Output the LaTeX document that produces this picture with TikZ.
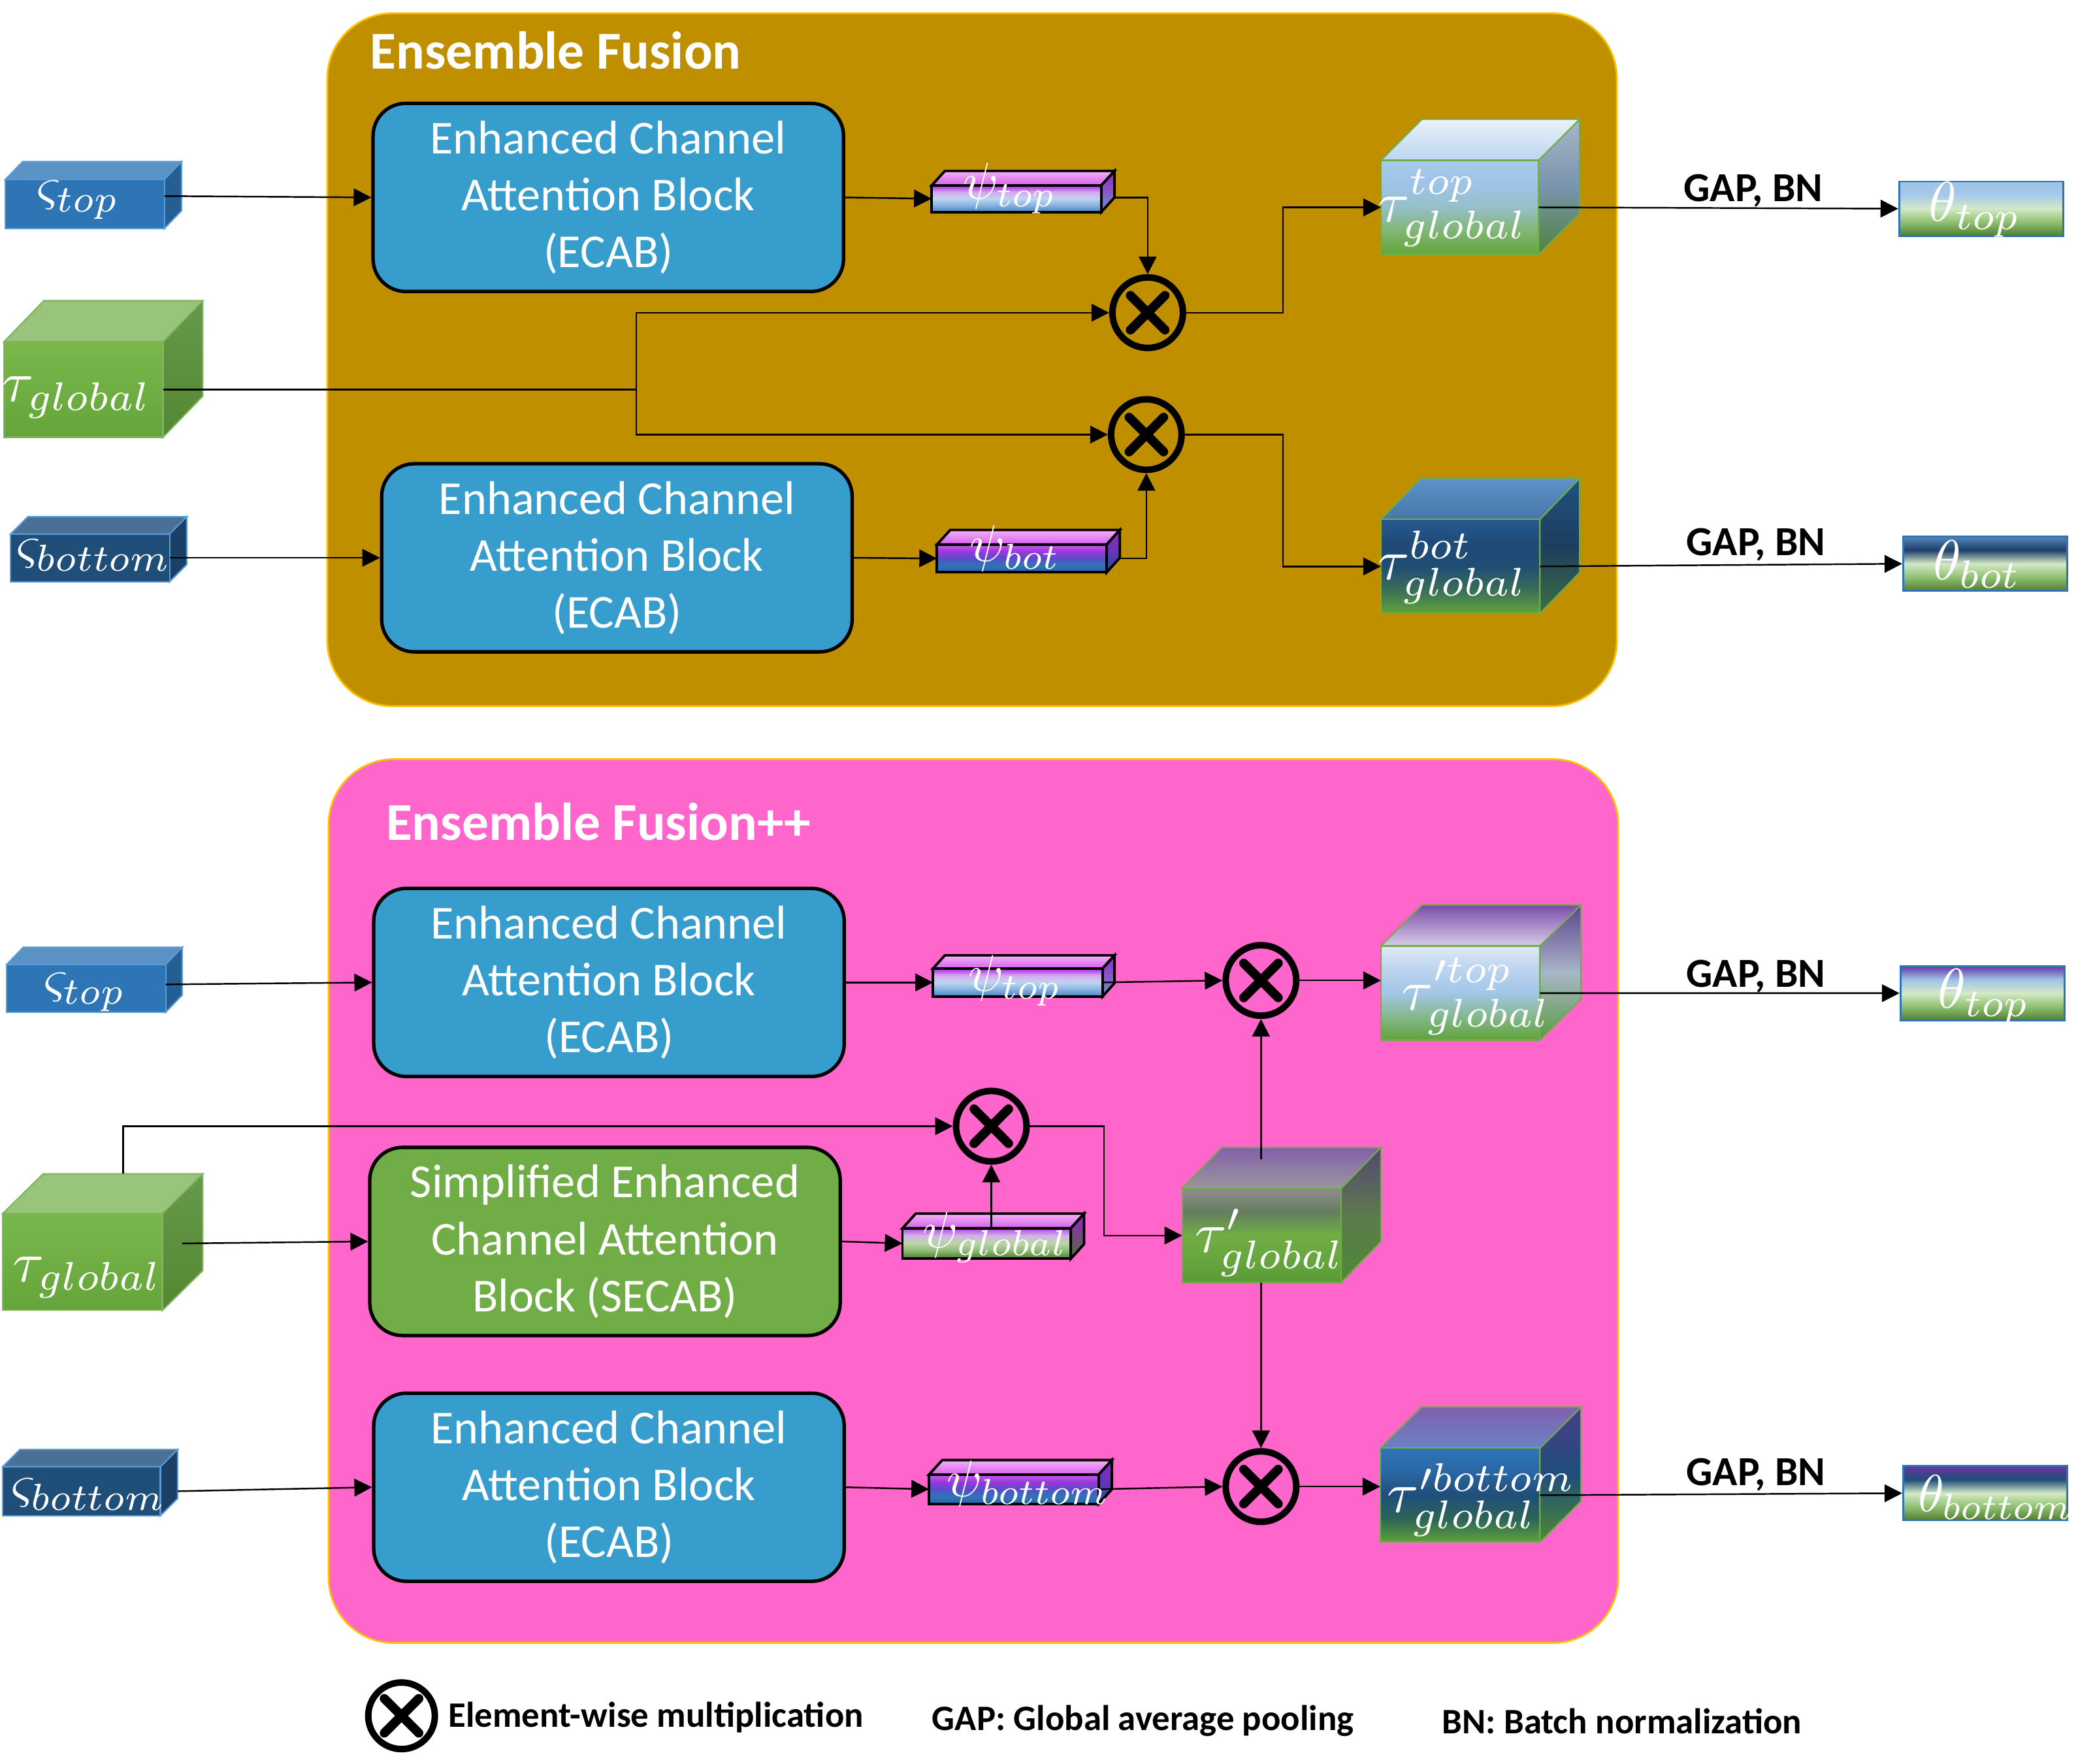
\documentclass[tikz,border=0pt]{standalone}
\usepackage{fontspec}
\setmainfont{Carlito}
\usetikzlibrary{arrows.meta,calc}
\newlength\pxl
\setlength\pxl{0.020287cm}

\definecolor{panelA}{HTML}{BF8F00}
\definecolor{panelB}{HTML}{FF66CC}
\definecolor{panelLine}{HTML}{FFC000}
\definecolor{ecabC}{HTML}{369DCD}
\definecolor{secabC}{HTML}{70AD47}
\definecolor{sLine}{HTML}{5B9BD5}
\definecolor{sTfront}{HTML}{2E75B6}
\definecolor{sTtop}{HTML}{5A92C6}
\definecolor{sTside}{HTML}{255E92}
\definecolor{sBfront}{HTML}{1F4E79}
\definecolor{sBtop}{HTML}{4A7096}
\definecolor{sBside}{HTML}{1B4066}
\definecolor{tGline}{HTML}{7FB55C}
\definecolor{tGtop}{HTML}{98C47C}
\definecolor{tGside1}{HTML}{66994A}
\definecolor{tGside2}{HTML}{538832}
\definecolor{tGfront1}{HTML}{78B84B}
\definecolor{tGfront2}{HTML}{64A43A}
\definecolor{cubeLine}{HTML}{70AD47}
\definecolor{thetaLine}{HTML}{2E75B6}
\definecolor{pinkTop}{HTML}{F4B2F4}
\definecolor{pinkBot}{HTML}{D660EE}
\definecolor{pSideTop}{HTML}{9A20CC}
\definecolor{pSideT}{HTML}{6E94BE}
\definecolor{pSideB}{HTML}{2A4EA0}
\definecolor{pSideG}{HTML}{4A7530}
\definecolor{tTtopA}{HTML}{EAF2FA}
\definecolor{tTtopB}{HTML}{BCD6EE}
\definecolor{tTsA}{HTML}{A8B6C6}
\definecolor{tTsB}{HTML}{7894AE}
\definecolor{tTsC}{HTML}{4E823A}
\definecolor{tBtopA}{HTML}{5E92C8}
\definecolor{tBtopB}{HTML}{4676AC}
\definecolor{tBsA}{HTML}{23507F}
\definecolor{tBsB}{HTML}{1C3E60}
\definecolor{tBsC}{HTML}{3E7040}
\definecolor{tPTtopA}{HTML}{7A4CA8}
\definecolor{tPTtopB}{HTML}{D6CDE8}
\definecolor{tPTsA}{HTML}{5E4290}
\definecolor{tPTsB}{HTML}{A8B6C6}
\definecolor{tPTsC}{HTML}{5A9A40}
\definecolor{tPtopA}{HTML}{8460AA}
\definecolor{tPtopB}{HTML}{9A969C}
\definecolor{tPsA}{HTML}{554474}
\definecolor{tPsB}{HTML}{5C7A4E}
\definecolor{tPsC}{HTML}{4E8A34}
\definecolor{tPBtopA}{HTML}{8060B0}
\definecolor{tPBtopB}{HTML}{6A82C4}
\definecolor{tPBsA}{HTML}{4A3C8C}
\definecolor{tPBsB}{HTML}{1F4E79}
\definecolor{tPBsC}{HTML}{4E8A34}

% vertical shading: colours from bottom (A) to top (E)
\newcommand\vsh[6]{%
 \definecolor{#1A}{HTML}{#2}\definecolor{#1B}{HTML}{#3}\definecolor{#1C}{HTML}{#4}%
 \definecolor{#1D}{HTML}{#5}\definecolor{#1E}{HTML}{#6}%
 \pgfdeclareverticalshading{#1}{100bp}{color(0bp)=(#1A); color(25bp)=(#1A);
  color(37.5bp)=(#1B); color(50bp)=(#1C); color(62.5bp)=(#1D); color(75bp)=(#1E);
  color(100bp)=(#1E)}}
\vsh{shPsiT}{4A7FC1}{86B2E0}{BCD6EE}{D8A8F0}{A828DC}
\vsh{shPsiB}{2A64A8}{2E75B6}{5A4CC8}{9A38DC}{CC5AF0}
\vsh{shPsiG}{4A7530}{8AB870}{B8D6A4}{D4B4E6}{B444E8}
\vsh{shThTa}{4F7E30}{8FBF70}{D4E9C6}{A6C9EA}{9DC3E6}
\vsh{shThBa}{4F7E30}{8FBF70}{D4E9C6}{1F3F6A}{5585BA}
\vsh{shThTb}{4F7E30}{8FBF70}{D4E9C6}{9DC3E6}{6A35A0}
\vsh{shThBb}{4F7E30}{8FBF70}{D4E9C6}{1F4E79}{6A35A0}
\vsh{shTT}{62A53A}{80B672}{96BFC8}{9EC4E8}{A9CAEC}
\vsh{shTB}{62A53A}{3A6E58}{1F4D74}{1F4A78}{265A92}
\vsh{shTPT}{5FA23A}{84B88C}{A2C6E8}{BCD4EE}{DFE9F6}
\vsh{shTP}{5A9A36}{67A63E}{70AE44}{647E5E}{8E8C90}
\vsh{shTPB}{5FA23A}{2C6458}{1F4E79}{2A67A4}{2E75B6}

% #1 name, #2 left, #3 top, #4 width, #5 height, #6 depth x, #7 depth y, #8 style prefix
\newcommand\cubeat[8]{%
  \path[#8-top] (#2,#3) -- ++(#6,-#7) -- ++(#4,0) -- ++(-#6,#7) -- cycle;
  \path[#8-side] (#2+#4,#3) -- ++(#6,-#7) -- ++(0,#5) -- ++(-#6,#7) -- cycle;
  \node[#8-front, minimum width=#4*\pxl, minimum height=#5*\pxl, anchor=north west,
        inner sep=0pt, outer sep=0pt] (#1) at (#2,#3) {};
}

\begin{document}
\begin{tikzpicture}[x=0.020287cm, y=-0.020287cm,
  arr/.style={draw=black, line width=0.7pt, -{Triangle[length=0.27cm,width=0.27cm]}},
  ln/.style={draw=black, line width=0.7pt},
  panel/.style={draw=panelLine, line width=0.8pt, rounded corners=1.0cm},
  ptitle/.style={anchor=west, text=white, inner sep=0pt, font=\bfseries\fontsize{23.2}{28}\selectfont},
  ecab/.style={draw=black, line width=1.5pt, rounded corners=0.5cm, fill=ecabC, text=white,
     align=center, font=\fontsize{20.6}{24.8}\selectfont, minimum width=355*\pxl,
     minimum height=142*\pxl, inner sep=0pt, execute at begin node={\rule{0pt}{42\pxl}}},
  mult/.style={circle, draw=black, line width=0.1cm, minimum size=1.08cm, inner sep=0pt,
     path picture={\draw[line width=0.14cm, line cap=round]
       ($(path picture bounding box.center)+(-13,-13)$) -- ($(path picture bounding box.center)+(13,13)$)
       ($(path picture bounding box.center)+(-13,13)$) -- ($(path picture bounding box.center)+(13,-13)$);}},
  labBig/.style={text=white, inner sep=0pt, scale=2.5},
  labPsi/.style={text=white, inner sep=0pt, scale=2.25},
  labTh/.style={text=white, inner sep=0pt, scale=2.45},
  labS/.style={text=white, inner sep=0pt, scale=2.35},
  gap/.style={inner sep=0pt, font=\bfseries\fontsize{18}{22}\selectfont},
  legend/.style={anchor=west, inner sep=0pt, font=\bfseries\fontsize{15.6}{19}\selectfont},
  theta/.style={draw=thetaLine, line width=0.8pt, shade, minimum width=124*\pxl,
     minimum height=41*\pxl, inner sep=0pt},
  sT-top/.style={fill=sTtop, draw=sLine, line width=0.6pt},
  sT-side/.style={fill=sTside, draw=sLine, line width=0.6pt},
  sT-front/.style={fill=sTfront, draw=sLine, line width=0.6pt},
  sB-top/.style={fill=sBtop, draw=sLine, line width=0.6pt},
  sB-side/.style={fill=sBside, draw=sLine, line width=0.6pt},
  sB-front/.style={fill=sBfront, draw=sLine, line width=0.6pt},
  tG-top/.style={fill=tGtop, draw=tGline, line width=0.6pt},
  tG-side/.style={top color=tGside1, bottom color=tGside2, draw=tGline, line width=0.6pt},
  tG-front/.style={top color=tGfront1, bottom color=tGfront2, draw=tGline, line width=0.6pt},
  psiT-top/.style={top color=pinkTop, bottom color=pinkBot, draw=black, line width=1.1pt},
  psiT-side/.style={top color=pSideTop, bottom color=pSideT, draw=black, line width=1.1pt},
  psiT-front/.style={shade, shading=shPsiT, draw=black, line width=1.1pt},
  psiB-top/.style={top color=pinkTop, bottom color=pinkBot, draw=black, line width=1.1pt},
  psiB-side/.style={top color=pSideTop, bottom color=pSideB, draw=black, line width=1.1pt},
  psiB-front/.style={shade, shading=shPsiB, draw=black, line width=1.1pt},
  psiG-top/.style={top color=pinkTop, bottom color=pinkBot, draw=black, line width=1.1pt},
  psiG-side/.style={top color=pSideTop, bottom color=pSideG, draw=black, line width=1.1pt},
  psiG-front/.style={shade, shading=shPsiG, draw=black, line width=1.1pt},
  tT-top/.style={top color=tTtopA, bottom color=tTtopB, draw=cubeLine, line width=0.6pt},
  tT-side/.style={top color=tTsA, bottom color=tTsC, middle color=tTsB, draw=cubeLine, line width=0.6pt},
  tT-front/.style={shade, shading=shTT, draw=cubeLine, line width=0.6pt},
  tB-top/.style={top color=tBtopA, bottom color=tBtopB, draw=cubeLine, line width=0.6pt},
  tB-side/.style={top color=tBsA, bottom color=tBsC, middle color=tBsB, draw=cubeLine, line width=0.6pt},
  tB-front/.style={shade, shading=shTB, draw=cubeLine, line width=0.6pt},
  tPT-top/.style={top color=tPTtopA, bottom color=tPTtopB, draw=cubeLine, line width=0.6pt},
  tPT-side/.style={top color=tPTsA, bottom color=tPTsC, middle color=tPTsB, draw=cubeLine, line width=0.6pt},
  tPT-front/.style={shade, shading=shTPT, draw=cubeLine, line width=0.6pt},
  tP-top/.style={top color=tPtopA, bottom color=tPtopB, draw=cubeLine, line width=0.6pt},
  tP-side/.style={top color=tPsA, bottom color=tPsC, middle color=tPsB, draw=cubeLine, line width=0.6pt},
  tP-front/.style={shade, shading=shTP, draw=cubeLine, line width=0.6pt},
  tPB-top/.style={top color=tPBtopA, bottom color=tPBtopB, draw=cubeLine, line width=0.6pt},
  tPB-side/.style={top color=tPBsA, bottom color=tPBsC, middle color=tPBsB, draw=cubeLine, line width=0.6pt},
  tPB-front/.style={shade, shading=shTPB, draw=cubeLine, line width=0.6pt}
]
\useasboundingbox (0,0) rectangle (1568,1331);
\fill[white] (0,0) rectangle (1568,1331);

% ---------------- panels
\path[panel, fill=panelA] (247,10) rectangle (1220,533);
\node[ptitle] (title1) at (279,38) {Ensemble Fusion};
\path[panel, fill=panelB] (248,573) rectangle (1221,1240);
\node[ptitle] (title2) at (291,620) {Ensemble Fusion++};

% ---------------- top panel
\node[ecab] (ecab1) at (459,149) {Enhanced Channel\\Attention Block\\(ECAB)};
\node[ecab] (ecab2) at (465.5,421) {Enhanced Channel\\Attention Block\\(ECAB)};

\cubeat{sTop1}{4}{135.5}{120}{37}{13}{13.5}{sT}
\cubeat{tauG1}{3}{258}{120}{72}{30}{31}{tG}
\cubeat{sBot1}{8}{403}{120}{36}{13}{13}{sB}
\cubeat{psiT1}{703}{140}{128}{20}{10}{11}{psiT}
\cubeat{psiB1}{707}{411}{128}{21}{10}{11}{psiB}
\node[mult] (m1) at (866,236) {};
\node[mult] (m2) at (865,328) {};
\cubeat{tauT1}{1042}{121}{119}{71}{31}{31}{tT}
\cubeat{tauB1}{1042}{392}{120}{71}{30}{31}{tB}
\node[theta, shading=shThTa] (thT1) at (1495,157.5) {};
\node[theta, shading=shThBa] (thB1) at (1498,425.5) {};

\draw[arr] ($(sTop1.east)+(0,-6)$) -- (ecab1.west);
\coordinate (j1) at (480,294);
\draw[ln] (tauG1.east) -- (j1);
\draw[arr] (j1) |- (m1.west);
\draw[arr] (j1) |- (m2.west);
\draw[arr] (sBot1.east) -- (ecab2.west);
\draw[arr] (ecab1.east) -- (psiT1.west);
\draw[arr] ($(psiT1.east)+(10,-1)$) -| (m1.north);
\draw[arr] (m1.east) -- ++(73,0) |- (tauT1.west);
\draw[arr] (ecab2.east) -- (psiB1.west);
\draw[arr] ($(psiB1.east)+(10,0)$) -| (m2.south);
\draw[arr] (m2.east) -- ++(74,0) |- (tauB1.west);
\draw[arr] (tauT1.east) -- (thT1.west);
\draw[arr] (tauB1.east) -- (thB1.west);
\node[gap] (gap1) at (1323,144) {GAP, BN};
\node[gap] (gap2) at (1325,411) {GAP, BN};

\node[labS] (sTop1l) at (59,151) {$\varsigma_{top}$};
\node[labBig] (tauG1l) at (58,300) {$\tau_{global}$};
\node[labS] (sBot1l) at (71,419) {$\varsigma_{bottom}$};
\node[labPsi] (psiT1l) at (762,142) {$\psi_{top}$};
\node[labPsi] (psiB1l) at (766,414) {$\psi_{bot}$};
\node[labBig] (tauT1l) at (1096,157) {$\tau^{top}_{global}$};
\node[labBig] (tauB1l) at (1096,428) {$\tau^{bot}_{global}$};
\node[labTh] (thT1l) at (1490,158) {$\theta_{top}$};
\node[labTh] (thB1l) at (1492,426) {$\theta_{bot}$};

% ---------------- bottom panel
\node[ecab] (ecab3) at (459.5,741.5) {Enhanced Channel\\Attention Block\\(ECAB)};
\node[ecab, fill=secabC] (secab) at (456.5,937) {Simplified Enhanced\\Channel Attention\\Block (SECAB)};
\node[ecab] (ecab4) at (459.5,1122.5) {Enhanced Channel\\Attention Block\\(ECAB)};

\cubeat{sTop2}{5}{728}{120}{36}{12.5}{13}{sT}
\cubeat{tauG2}{2}{916}{120.5}{73}{30.5}{30}{tG}
\cubeat{sBot2}{2}{1107}{119}{37}{13}{13}{sB}
\cubeat{psiT2}{704}{731}{128}{21}{9}{10}{psiT}
\cubeat{psiG}{681}{927}{127}{23}{10}{11}{psiG}
\cubeat{psiBm}{701}{1113}{128}{22}{10}{11}{psiB}
\node[mult] (m3) at (748,850) {};
\node[mult] (m4) at (951.5,740) {};
\node[mult] (m5) at (951.5,1122) {};
\cubeat{tauPT}{1042}{714}{120}{71}{31}{31}{tPT}
\cubeat{tauP}{892}{897}{120}{71}{30}{31}{tP}
\cubeat{tauPB}{1041.5}{1093}{120.5}{71}{31}{31}{tPB}
\node[theta, shading=shThTb] (thT2) at (1496,749.6) {};
\node[theta, shading=shThBb] (thB2) at (1498,1127) {};

\draw[arr] ($(sTop2.east)+(0,-3)$) -- (ecab3.west);
\draw[arr] ($(tauG2.north west)+(91,-30)$) |- (m3.west);
\draw[arr] ($(tauG2.east)+(15,-14)$) -- (secab.west);
\draw[arr] ($(sBot2.east)+(13,0)$) -- (ecab4.west);
\draw[arr] (ecab3.east) -- (psiT2.west);
\draw[arr] (psiT2.east) -- (m4.west);
\draw[arr] (m4.east) -- (m4.east -| tauPT.west);
\draw[arr] (secab.east) -- (psiG.west);
\draw[arr] (m3.south |- psiG.north) -- (m3.south);
\draw[arr] (m3.east) -- ++(56,0) |- (tauP.west);
\draw[arr] ($(m4.south |- tauP.north)+(0,-22)$) -- (m4.south);
\draw[arr] (m5.north |- tauP.south) -- (m5.north);
\draw[arr] (ecab4.east) -- (psiBm.west);
\draw[arr] (psiBm.east) -- (m5.west);
\draw[arr] (m5.east) -- (m5.east -| tauPB.west);
\draw[arr] (tauPT.east) -- (thT2.west);
\draw[arr] (tauPB.east) -- (thB2.west);
\node[gap] (gap3) at (1325,737) {GAP, BN};
\node[gap] (gap4) at (1325,1113) {GAP, BN};

\node[labS] (sTop2l) at (64,749) {$\varsigma_{top}$};
\node[labBig] (tauG2l) at (66,964) {$\tau_{global}$};
\node[labS] (sBot2l) at (67,1128) {$\varsigma_{bottom}$};
\node[labPsi] (psiT2l) at (766,740) {$\psi_{top}$};
\node[labPsi] (psiGl) at (751,934) {$\psi_{global}$};
\node[labPsi] (psiBml) at (776,1120) {$\psi_{bottom}$};
\node[labBig] (tauPTl) at (1114,752) {$\tau'^{top}_{global}$};
\node[labBig] (tauPl) at (958,938) {$\tau'_{global}$};
\node[labBig] (tauPBl) at (1118,1132) {$\tau'^{bottom}_{global}$};
\node[labTh] (thT2l) at (1497,752) {$\theta_{top}$};
\node[labTh, scale=0.93] (thB2l) at (1506,1130) {$\theta_{bottom}$};

% ---------------- legend
\node[mult, minimum size=1.02cm] (lm) at (303,1295) {};
\node[legend] (lg1) at (338,1296) {Element-wise multiplication};
\node[legend] (lg2) at (703,1299) {GAP: Global average pooling};
\node[legend] (lg3) at (1088,1299) {BN: Batch normalization};
\end{tikzpicture}
\end{document}
